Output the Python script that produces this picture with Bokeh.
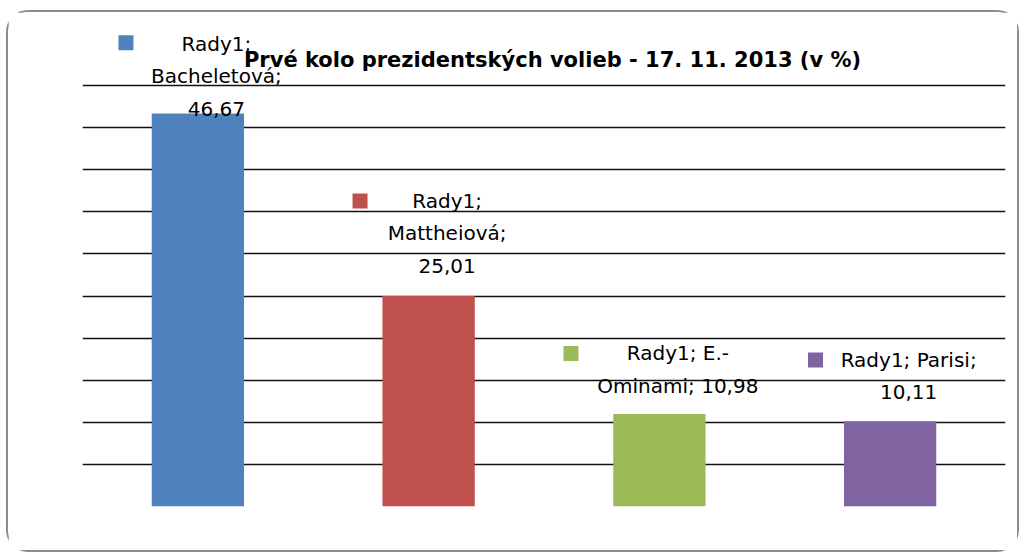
from bokeh.plotting import figure
from bokeh.models import Range1d, FixedTicker, ColumnDataSource, Label, Grid
from bokeh.embed import file_html
from bokeh.resources import INLINE
from bokeh.core.properties import value

# ---------------- data ----------------
title_text = "Prvé kolo prezidentských volieb - 17. 11. 2013 (v %)"
series_name = "Rady1"
categories = ["Bacheletová", "Mattheiová", "E.-Ominami", "Parisi"]
values = [46.67, 25.01, 10.98, 10.11]
colors = ["#4F81BD", "#C0504D", "#9BBB59", "#8064A2"]
grid_ticks = [0, 5, 10, 15, 20, 25, 30, 35, 40, 45, 50]

val_txt = [f"{v:.2f}".replace(".", ",") for v in values]
label_lines = [
    [f"{series_name};", f"{categories[0]};", val_txt[0]],
    [f"{series_name};", f"{categories[1]};", val_txt[1]],
    [f"{series_name}; E.-", f"Ominami; {val_txt[2]}"],
    [f"{series_name}; {categories[3]};", val_txt[3]],
]

# ---------------- layout / style ----------------
W, H = 1013, 542
ML, MR, MT, MB = 74, 16, 8, 48
frame_w = W - ML - MR
frame_h = H - MT - MB
px_per_y = 421 / 50.0
y_top = frame_h / px_per_y
px_per_x = frame_w / len(categories)

FONT = "DejaVu Sans"
label_size = "20px"
line_gap = 32.5
last_line_above = [5.0, 30, 28.5, 29]     # px above bar top (baseline of last line)
text_dx = 18.5
square_dx = [-71.9, -68.6, -88.4, -74.6]
square_dy = [70.9, 94.9, 60.5, 61.4]

p = figure(width=W, height=H,
           x_range=Range1d(-0.5, len(categories) - 0.5),
           y_range=Range1d(0, y_top),
           x_axis_location=None, y_axis_location=None,
           output_backend="svg", toolbar_location=None,
           min_border=0, min_border_left=ML, min_border_right=MR,
           min_border_top=MT, min_border_bottom=MB,
           styles={"border": "2px solid #8c8c8c", "border-radius": "22px",
                   "margin-top": "10px", "margin-left": "6px"})
p.outline_line_color = None
p.background_fill_color = "white"
p.border_fill_color = "white"
p.xgrid.visible = False
p.ygrid.visible = False
p.add_layout(Grid(dimension=1, ticker=FixedTicker(ticks=grid_ticks),
                  grid_line_color="#111111", grid_line_width=1.6))

idx = list(range(len(categories)))
p.vbar(x=idx, top=values, width=0.4, fill_color=colors, line_color=None)

# data labels
tx, ty, txt, yoff = [], [], [], []
for i, lines in enumerate(label_lines):
    n = len(lines)
    for j, line in enumerate(lines):
        tx.append(i)
        ty.append(values[i])
        txt.append(line)
        yoff.append(-(last_line_above[i] + (n - 1 - j) * line_gap))
src = ColumnDataSource(dict(x=tx, y=ty, text=txt, yoff=yoff))
p.text(x="x", y="y", text="text", y_offset="yoff", x_offset=text_dx, source=src,
       text_font=value(FONT), text_font_size=label_size, text_color="black",
       text_align="center", text_baseline="alphabetic")

# legend-key squares in labels
sq_x = [i + square_dx[i] / px_per_x for i in idx]
sq_y = [values[i] + square_dy[i] / px_per_y for i in idx]
p.rect(x=sq_x, y=sq_y, width=15, height=15, width_units="screen", height_units="screen",
       fill_color=colors, line_color=None)

# title
p.add_layout(Label(x=(len(categories) - 1) / 2, y=(frame_h - 39) / px_per_y, x_offset=8.5,
                   text=title_text, text_font=FONT, text_font_style="bold",
                   text_font_size="21px", text_color="black",
                   text_align="center", text_baseline="alphabetic"))

open("out.html", "w").write(file_html(p, INLINE))
